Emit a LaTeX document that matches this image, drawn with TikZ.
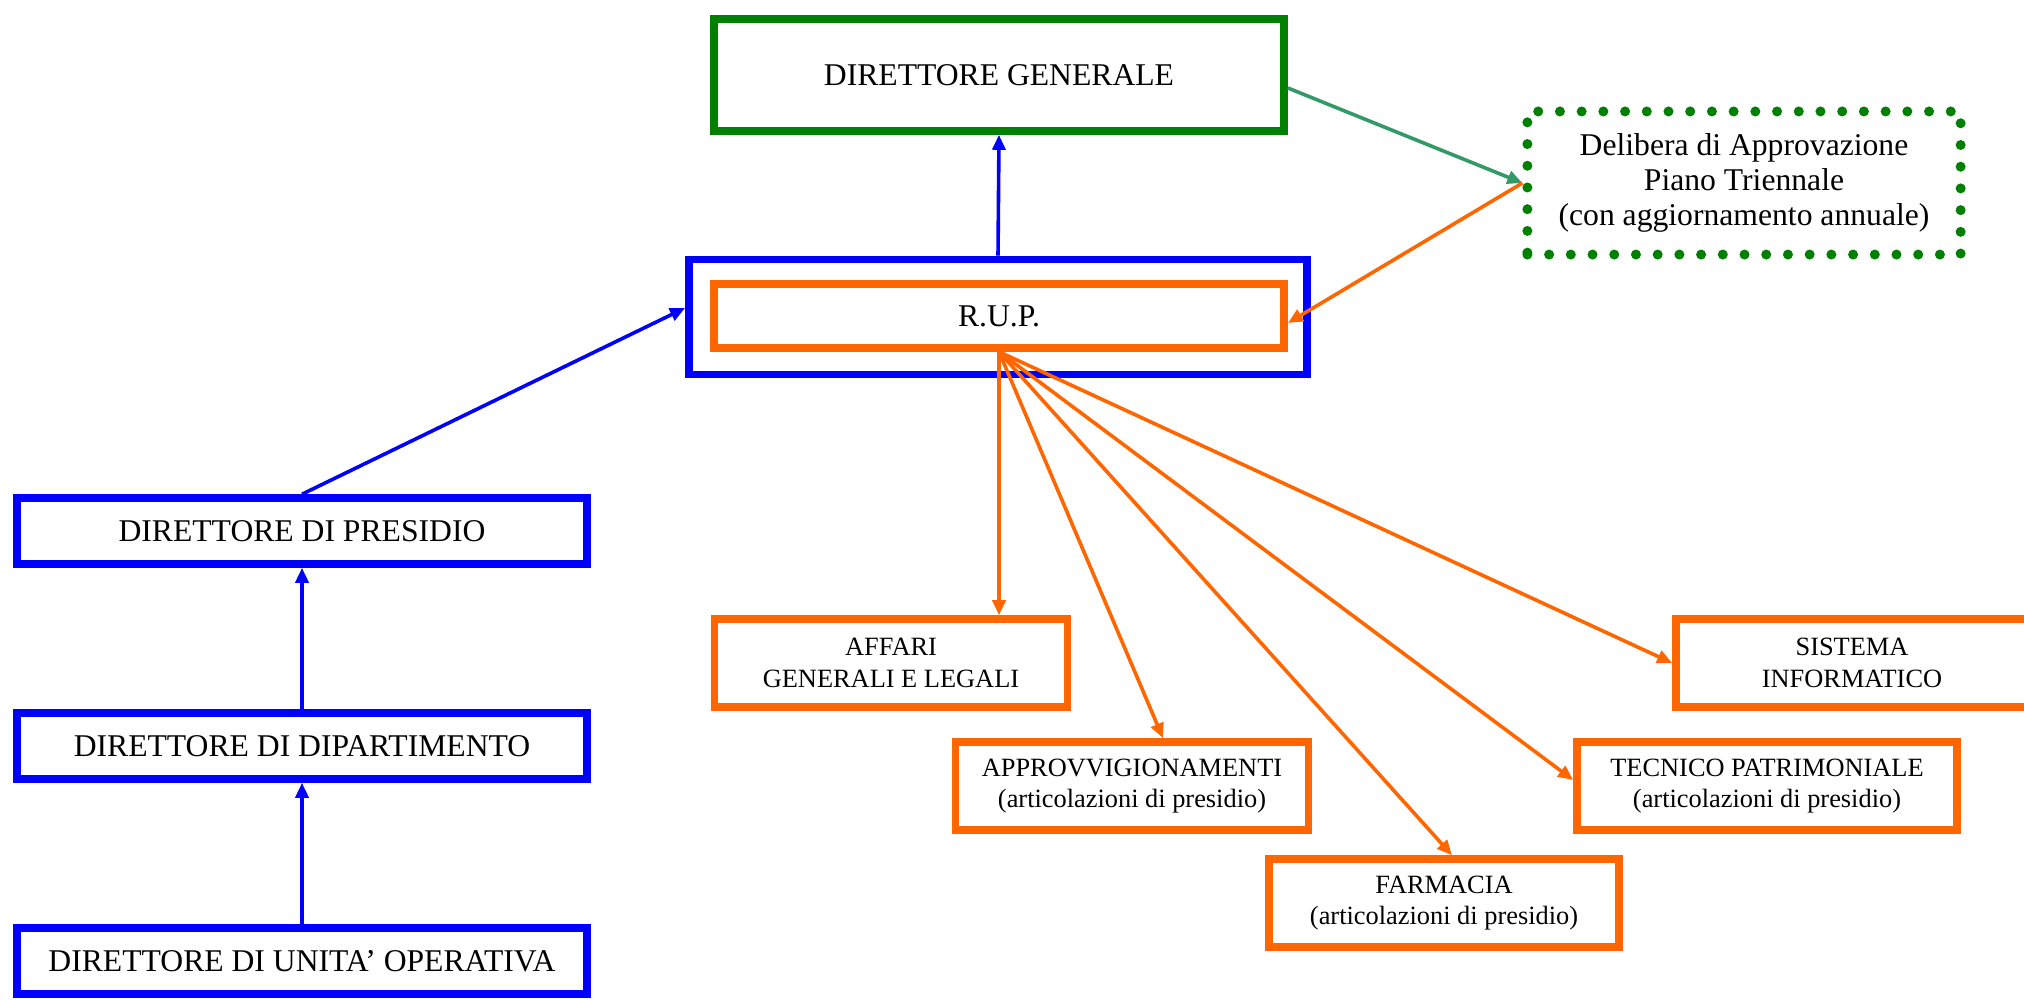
\documentclass[tikz,border=0pt]{standalone}
\usepackage{fontspec}
\setmainfont{Liberation Serif}
\usepackage{tikz}
\usetikzlibrary{arrows.meta, calc}
\definecolor{dgreen}{HTML}{008000}
\definecolor{rorange}{HTML}{FF6600}
\definecolor{sgreen}{HTML}{339966}

\begin{document}
\begin{tikzpicture}[x=0.01cm, y=-0.01cm,
  box/.style={draw, line width=0.075cm, inner sep=0pt, align=center, text=black, font=\fontsize{9}{10}\selectfont},
  unitbox/.style={box, draw=rorange, minimum width=3.53cm, minimum height=0.88cm, font=\fontsize{7.5}{9}\selectfont},
  link/.style={-{Triangle[length=0.15cm, width=0.13cm]}, line width=0.036cm}]
\useasboundingbox (0,0) rectangle (2024,1000);
\path
(999,75) node[box, draw=dgreen, minimum width=5.7cm, minimum height=1.12cm] (dg) {DIRETTORE GENERALE};
\path
(998,317) node[box, draw=blue, minimum width=6.18cm, minimum height=1.15cm] (rupbox) {};
\path
(999,316) node[box, draw=rorange, minimum width=5.7cm, minimum height=0.64cm] (rup) {R.U.P.};
\path
(1744,183) node[box, draw=dgreen, line width=0.1cm, line cap=round, dash pattern=on 0pt off 0.217cm,
  minimum width=4.33cm, minimum height=1.43cm] (delibera) {Delibera di Approvazione\\Piano Triennale\\(con aggiornamento annuale)};
\path
(302,531) node[box, draw=blue, minimum width=5.7cm, minimum height=0.66cm] (presidio) {DIRETTORE DI PRESIDIO};
\path
(302,746) node[box, draw=blue, minimum width=5.7cm, minimum height=0.66cm] (dipartimento) {DIRETTORE DI DIPARTIMENTO};
\path
(302,961) node[box, draw=blue, minimum width=5.7cm, minimum height=0.66cm] (unita) {DIRETTORE DI UNITA’ OPERATIVA};
\path
(891,663) node[unitbox] (affari) {AFFARI\\GENERALI E LEGALI};
\path
(1132,786) node[unitbox] (approv) {APPROVVIGIONAMENTI\\(articolazioni di presidio)};
\path
(1444,903) node[unitbox, minimum width=3.5cm] (farmacia) {FARMACIA\\(articolazioni di presidio)};
\path
(1767,786) node[unitbox, minimum width=3.8cm] (tecnico) {TECNICO PATRIMONIALE\\(articolazioni di presidio)};
\path
(1852,663) node[unitbox, minimum width=3.52cm] (sistema) {SISTEMA\\INFORMATICO};
\draw[link, blue] (rupbox.north)--(dg.south);
\draw[link, sgreen] ($(dg.east)+(0,13)$)--(delibera.west);
\draw[link, rorange] (delibera.west)--($(rup.east)+(0,7)$);
\draw[link, blue] (presidio.north)--($(rupbox.west)+(0,-9)$);
\draw[link, blue] (dipartimento.north)--(presidio.south);
\draw[link, blue] (unita.north)--(dipartimento.south);
\draw[link, rorange] (rup.south)--(rup.south |- affari.north);
\draw[link, rorange] (rup.south)--($(approv.north)+(31,0)$);
\draw[link, rorange] (rup.south)--($(farmacia.north)+(8,0)$);
\draw[link, rorange] (rup.south)--($(tecnico.west)+(0,-6)$);
\draw[link, rorange] (rup.south)--(sistema.west);
\end{tikzpicture}
\end{document}
